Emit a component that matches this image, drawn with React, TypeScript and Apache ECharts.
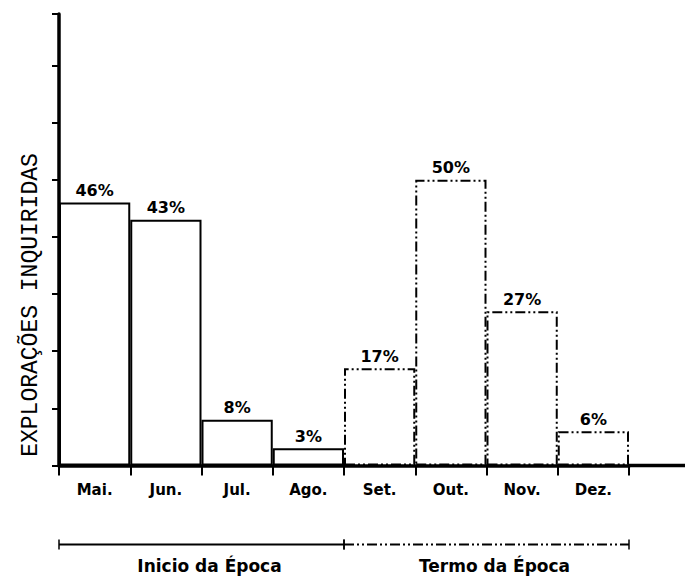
import React, { useEffect, useRef } from 'react';
import * as echarts from 'echarts';

const months = ['Mai.', 'Jun.', 'Jul.', 'Ago.', 'Set.', 'Out.', 'Nov.', 'Dez.'];
const shares = [46, 43, 8, 3, 17, 50, 27, 6];
const monthPeriod = [0, 0, 0, 0, 1, 1, 1, 1];
const periods = ['Inicio da Época', 'Termo da Época'];
const yAxisTitle = 'EXPLORAÇÕES INQUIRIDAS';
const yMax = 79;
const yStep = 10;

const DASH_DOT = [10, 3, 2, 3, 2, 3];
const LABEL_FONT = '"DejaVu Sans", sans-serif';

export default function App() {
  const ref = useRef<HTMLDivElement>(null);

  useEffect(() => {
    if (!ref.current) return;
    const chart = echarts.init(ref.current, null, { renderer: 'svg' });
    const option: any = {
      animation: false,
      backgroundColor: '#fff',
      grid: { left: 59, right: 59, top: 14, bottom: 111.5 },
      xAxis: {
        type: 'category',
        data: months,
        boundaryGap: true,
        axisLine: { show: true, lineStyle: { color: '#000', width: 3.5 } },
        axisTick: { show: true, inside: false, length: 10, lineStyle: { color: '#000', width: 2 } },
        axisLabel: {
          show: true,
          margin: 17,
          color: '#000',
          fontFamily: LABEL_FONT,
          fontWeight: 'bold',
          fontSize: 15,
        },
        splitLine: { show: false },
      },
      yAxis: {
        type: 'value',
        min: 0,
        max: yMax,
        interval: yStep,
        axisLine: { show: true, lineStyle: { color: '#000', width: 3.5 } },
        axisTick: { show: true, inside: false, length: 7, lineStyle: { color: '#000', width: 2 } },
        axisLabel: { show: false },
        splitLine: { show: false },
      },
      series: [
        {
          type: 'bar',
          barWidth: '100%',
          barCategoryGap: 0,
          z: 2,
          data: shares.map((v, i) => ({
            value: v,
            itemStyle: {
              color: 'rgba(255,255,255,0)',
              borderColor: '#000',
              borderWidth: 2,
              borderType: monthPeriod[i] === 0 ? 'solid' : DASH_DOT,
            },
          })),
          label: {
            show: true,
            position: 'top',
            distance: 4,
            formatter: '{c}%',
            color: '#000',
            fontFamily: LABEL_FONT,
            fontWeight: 'bold',
            fontSize: 16,
          },
        },
      ],
    };
    chart.setOption(option);

    const cx = (i: number) => chart.convertToPixel({ xAxisIndex: 0 }, i) as number;
    const half = (cx(1) - cx(0)) / 2;
    const y0 = chart.convertToPixel({ yAxisIndex: 0 }, 0) as number;
    const rightEdge = cx(months.length - 1) + half;
    const bracketY = y0 + 79;
    const textY = y0 + 100;

    const graphic: any[] = [];
    graphic.push({
      type: 'line',
      shape: { x1: rightEdge, y1: y0, x2: 685, y2: y0 },
      style: { stroke: '#000', lineWidth: 3.5 },
      z: 5,
    });
    graphic.push({
      type: 'text',
      x: 31,
      y: 305,
      rotation: Math.PI / 2,
      style: {
        text: yAxisTitle,
        fill: '#000',
        font: '23px "Liberation Mono", monospace',
        align: 'center',
        verticalAlign: 'middle',
      },
    });
    periods.forEach((name, p) => {
      const idx = monthPeriod.map((mp, i) => (mp === p ? i : -1)).filter((i) => i >= 0);
      const xa = cx(idx[0]) - half;
      const xb = cx(idx[idx.length - 1]) + half;
      const dash = p === 0 ? null : DASH_DOT;
      graphic.push({
        type: 'line',
        shape: { x1: xa, y1: bracketY, x2: xb, y2: bracketY },
        style: { stroke: '#000', lineWidth: 2, lineDash: dash },
      });
      graphic.push({
        type: 'line',
        shape: { x1: xa, y1: bracketY - 5, x2: xa, y2: bracketY + 5 },
        style: { stroke: '#000', lineWidth: 1.5 },
      });
      graphic.push({
        type: 'line',
        shape: { x1: xb, y1: bracketY - 5, x2: xb, y2: bracketY + 5 },
        style: { stroke: '#000', lineWidth: 1.5 },
      });
      graphic.push({
        type: 'text',
        x: (xa + xb) / 2 + 8,
        y: textY,
        style: {
          text: name,
          fill: '#000',
          font: 'bold 17px "DejaVu Sans", sans-serif',
          align: 'center',
          verticalAlign: 'middle',
        },
      });
    });
    chart.setOption({ graphic });

    return () => chart.dispose();
  }, []);

  return (
    <div
      ref={ref}
      style={{ position: 'fixed', left: 0, top: 0, width: 688, height: 577 }}
    />
  );
}
